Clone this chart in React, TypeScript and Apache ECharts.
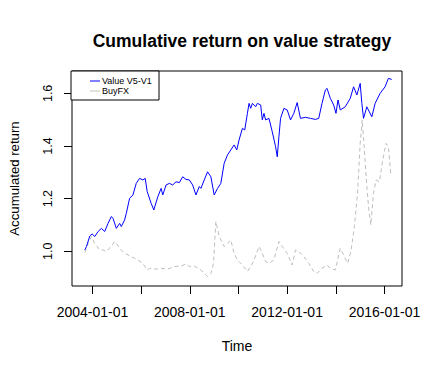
import React, { useEffect, useRef } from "react";
import * as echarts from "echarts";

const blueYears = [
  2003.686, 2003.755, 2003.891, 2003.986, 2004.095, 2004.232, 2004.368, 2004.504, 2004.641, 2004.777,
  2004.845, 2004.982, 2005.118, 2005.186, 2005.322, 2005.391, 2005.527, 2005.663, 2005.8, 2005.936,
  2006.072, 2006.168, 2006.249, 2006.413, 2006.522, 2006.686, 2006.822, 2006.89, 2007.027, 2007.163,
  2007.299, 2007.436, 2007.572, 2007.708, 2007.845, 2007.981, 2008.117, 2008.254, 2008.39, 2008.458,
  2008.594, 2008.731, 2008.867, 2009.003, 2009.14, 2009.276, 2009.412, 2009.549, 2009.685, 2009.821,
  2009.93, 2010.026, 2010.162, 2010.258, 2010.367, 2010.435, 2010.503, 2010.571, 2010.708, 2010.776,
  2010.912, 2010.98, 2011.048, 2011.117, 2011.253, 2011.389, 2011.526, 2011.594, 2011.662, 2011.73,
  2011.867, 2012.003, 2012.139, 2012.275, 2012.412, 2012.548, 2012.753, 2012.957, 2013.162, 2013.298,
  2013.434, 2013.571, 2013.639, 2013.775, 2013.912, 2014.007, 2014.089, 2014.184, 2014.389, 2014.593,
  2014.73, 2014.866, 2015.002, 2015.07, 2015.139, 2015.275, 2015.479, 2015.616, 2015.82, 2016.025,
  2016.161, 2016.297,
];
const blueValues = [
  1.005, 1.018, 1.058, 1.066, 1.056, 1.075, 1.087, 1.075, 1.106, 1.132,
  1.125, 1.087, 1.106, 1.094, 1.119, 1.144, 1.201, 1.214, 1.258, 1.277,
  1.271, 1.277, 1.227, 1.182, 1.157, 1.207, 1.239, 1.214, 1.252, 1.258,
  1.252, 1.264, 1.261, 1.283, 1.273, 1.271, 1.252, 1.214, 1.246, 1.239,
  1.271, 1.302, 1.283, 1.214, 1.239, 1.258, 1.334, 1.366, 1.385, 1.404,
  1.385, 1.423, 1.467, 1.461, 1.524, 1.562, 1.543, 1.562, 1.549, 1.562,
  1.556, 1.499, 1.524, 1.499, 1.505, 1.454, 1.397, 1.359, 1.435, 1.505,
  1.543, 1.537, 1.499, 1.524, 1.565, 1.505, 1.509, 1.505, 1.501, 1.505,
  1.562, 1.613, 1.619, 1.581, 1.556, 1.524, 1.575, 1.537, 1.549, 1.581,
  1.625, 1.594, 1.638, 1.562, 1.505, 1.549, 1.511, 1.562, 1.6, 1.625,
  1.657, 1.653,
];

const grayYears = [
  2003.686, 2003.823, 2003.959, 2004.095, 2004.3, 2004.436, 2004.573, 2004.641, 2004.777, 2004.913,
  2004.982, 2005.118, 2005.322, 2005.595, 2005.868, 2006.072, 2006.249, 2006.345, 2006.549, 2006.822,
  2007.095, 2007.367, 2007.64, 2007.845, 2007.981, 2008.185, 2008.458, 2008.731, 2008.867, 2008.976,
  2009.071, 2009.208, 2009.412, 2009.549, 2009.685, 2009.821, 2009.958, 2010.162, 2010.367, 2010.503,
  2010.64, 2010.844, 2010.98, 2011.117, 2011.253, 2011.457, 2011.662, 2011.798, 2012.003, 2012.207,
  2012.344, 2012.48, 2012.684, 2012.889, 2013.093, 2013.23, 2013.434, 2013.639, 2013.775, 2013.98,
  2014.184, 2014.321, 2014.484, 2014.62, 2014.757, 2014.893, 2015.002, 2015.084, 2015.166, 2015.275,
  2015.357, 2015.439, 2015.547, 2015.656, 2015.793, 2015.929, 2016.065, 2016.161, 2016.256,
];
const grayValues = [
  0.995, 1.03, 1.056, 1.03, 1.005, 1.005, 0.999, 1.007, 1.018, 1.037,
  1.03, 1.011, 0.992, 0.98, 0.967, 0.954, 0.929, 0.935, 0.932, 0.935,
  0.932, 0.942, 0.944, 0.952, 0.942, 0.944, 0.929, 0.904, 0.916, 0.954,
  1.113, 1.056, 1.018, 1.03, 1.043, 0.992, 0.967, 0.948, 0.923, 0.942,
  0.967, 1.018, 0.992, 0.961, 0.954, 0.967, 1.037, 1.018, 0.992, 0.948,
  1.005, 0.999, 0.98, 0.954, 0.923, 0.916, 0.935, 0.948, 0.935, 0.929,
  1.011, 0.986, 0.954, 0.999, 1.087, 1.22, 1.41, 1.499, 1.397, 1.245,
  1.157, 1.1, 1.22, 1.271, 1.264, 1.347, 1.41, 1.397, 1.296,
];

const xTickYears = [2004, 2006, 2008, 2010, 2012, 2014, 2016];
const xLabelYears = [2004, 2008, 2012, 2016];
const yTicks = [1.0, 1.2, 1.4, 1.6];

const seriesNames = ["Value V5-V1", "BuyFX"];
const seriesColors = ["#0000ff", "#bebebe"];
const legendColors = ["#0000ff", "#c8c0b8"];
const titleText = "Cumulative return on value strategy";
const xName = "Time";
const yName = "Accumulated return";

const FONT = "'Liberation Sans', Arial, sans-serif";

export default function App() {
  const ref = useRef<HTMLDivElement>(null);
  useEffect(() => {
    if (!ref.current) return;
    const chart = echarts.init(ref.current, undefined, { renderer: "svg" });
    const blueData = blueYears.map((y, i) => [y, blueValues[i]]);
    const grayData = grayYears.map((y, i) => [y, grayValues[i]]);
    const legendItems: any[] = [];
    seriesNames.forEach((name, i) => {
      const cy = 81 + i * 10;
      legendItems.push({
        type: "line",
        shape: { x1: 90, y1: cy, x2: 100, y2: cy },
        style: { stroke: legendColors[i], lineWidth: 1 },
      });
      legendItems.push({
        type: "text",
        x: 102,
        y: cy,
        style: {
          text: name,
          fill: "#000",
          font: `9px ${FONT}`,
          verticalAlign: "middle",
          textAlign: "left",
        },
      });
    });
    chart.setOption({
      animation: false,
      backgroundColor: "#ffffff",
      textStyle: { fontFamily: FONT },
      title: {
        text: titleText,
        left: 237,
        textAlign: "center",
        top: 27,
        textStyle: { fontSize: 17.5, fontWeight: "bold", color: "#000", fontFamily: FONT },
      },
      graphic: [
        {
          type: "rect",
          shape: { x: 71, y: 71, width: 88, height: 29 },
          style: { fill: "#fff", stroke: "#000", lineWidth: 1 },
          z: 100,
        },
        ...legendItems.map((it) => ({ ...it, z: 101 })),
      ],
      grid: {
        left: 71,
        right: 37,
        top: 71,
        bottom: 88,
        show: true,
        borderColor: "#000",
        borderWidth: 1,
        backgroundColor: "transparent",
      },
      xAxis: {
        type: "value",
        min: 2003.16,
        max: 2016.72,
        name: xName,
        nameLocation: "middle",
        nameGap: 53,
        nameTextStyle: { fontSize: 14, color: "#000", fontFamily: FONT },
        axisLine: { show: false },
        splitLine: { show: false },
        axisTick: {
          show: true,
          inside: false,
          length: 8,
          customValues: xTickYears,
          lineStyle: { color: "#000", width: 1 },
        },
        axisLabel: {
          show: true,
          customValues: xLabelYears,
          margin: 19,
          fontSize: 14,
          color: "#000",
          fontFamily: FONT,
          formatter: (v: number) => `${Math.round(v)}-01-01`,
        },
      },
      yAxis: {
        type: "value",
        min: 0.868,
        max: 1.685,
        name: yName,
        nameLocation: "middle",
        nameGap: 51,
        nameRotate: 90,
        nameTextStyle: { fontSize: 13.2, color: "#000", fontFamily: FONT },
        axisLine: { show: false },
        splitLine: { show: false },
        axisTick: {
          show: true,
          inside: false,
          length: 8,
          customValues: yTicks,
          lineStyle: { color: "#000", width: 1 },
        },
        axisLabel: {
          show: true,
          customValues: yTicks,
          rotate: 90,
          margin: 18,
          fontSize: 12.5,
          color: "#000",
          fontFamily: FONT,
          formatter: (v: number) => v.toFixed(1),
        },
      },
      series: [
        {
          name: seriesNames[0],
          type: "line",
          data: blueData,
          symbol: "none",
          lineStyle: { color: seriesColors[0], width: 1 },
          itemStyle: { color: seriesColors[0] },
          z: 3,
        },
        {
          name: seriesNames[1],
          type: "line",
          data: grayData,
          symbol: "none",
          lineStyle: { color: seriesColors[1], width: 1, type: [4, 3] },
          itemStyle: { color: seriesColors[1] },
          z: 2,
        },
      ],
    });
    return () => chart.dispose();
  }, []);
  return (
    <div
      ref={ref}
      style={{ position: "fixed", left: 0, top: 0, width: 439, height: 374, background: "#fff" }}
    />
  );
}
